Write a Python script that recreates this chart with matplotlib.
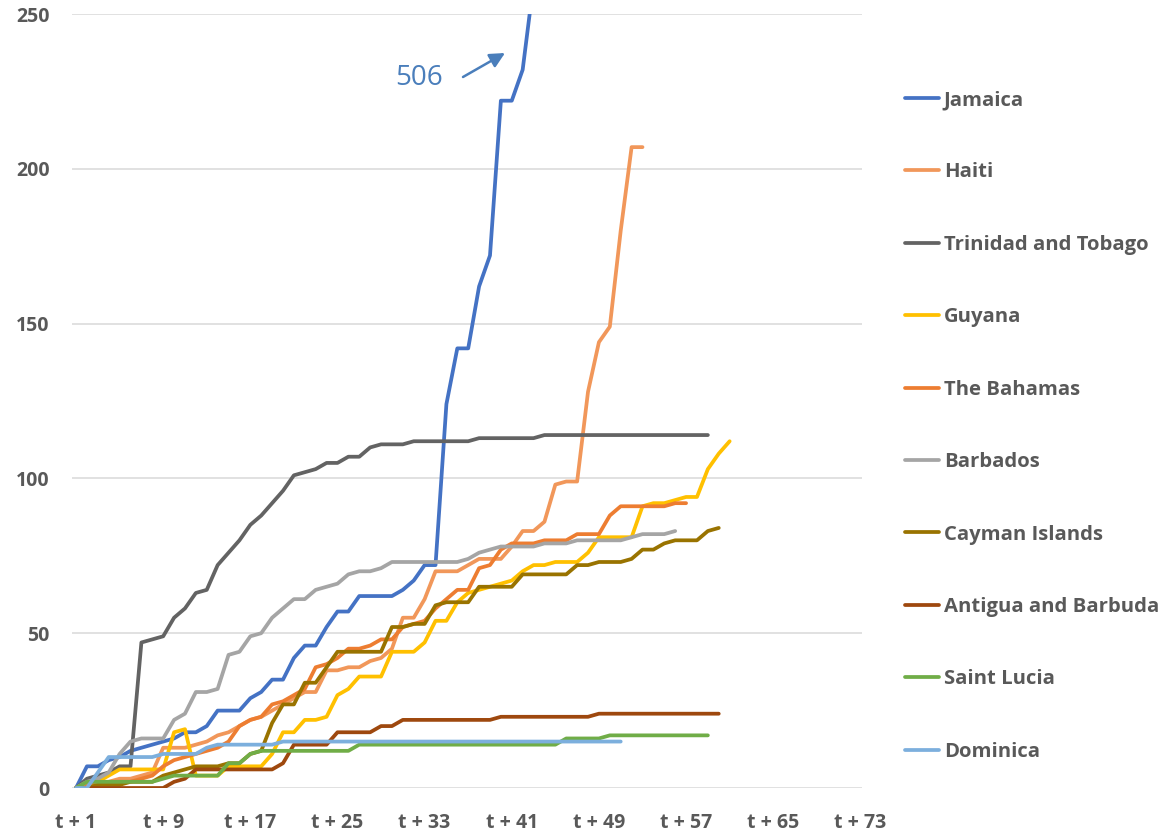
import numpy as np
import matplotlib
matplotlib.use('Agg')
import matplotlib.pyplot as plt

# ---------------- data ----------------
countries = ['Jamaica', 'Haiti', 'Trinidad and Tobago', 'Guyana', 'The Bahamas',
             'Barbados', 'Cayman Islands', 'Antigua and Barbuda', 'Saint Lucia', 'Dominica']

jamaica = [0, 7, 7, 9, 10, 12, 13, 14, 15, 16, 18, 18, 20, 25, 25, 25, 29, 31, 35, 35,
           42, 46, 46, 52, 57, 57, 62, 62, 62, 62, 64, 67, 72, 72, 124, 142, 142, 162, 172, 222,
           222, 232, 260, 300, 330, 366, 393, 412, 445, 470, 488, 506]
haiti = [0, 1, 2, 2, 3, 3, 4, 5, 13, 13, 13, 14, 15, 17, 18, 20, 22, 23, 25, 27,
         29, 31, 31, 38, 38, 39, 39, 41, 42, 45, 55, 55, 61, 70, 70, 70, 72, 74, 74, 74,
         78, 83, 83, 86, 98, 99, 99, 128, 144, 149, 180, 207, 207]
trinidad = [0, 3, 4, 5, 7, 7, 47, 48, 49, 55, 58, 63, 64, 72, 76, 80, 85, 88, 92, 96,
            101, 102, 103, 105, 105, 107, 107, 110, 111, 111, 111, 112, 112, 112, 112, 112, 112, 113, 113, 113,
            113, 113, 113, 114, 114, 114, 114, 114, 114, 114, 114, 114, 114, 114, 114, 114, 114, 114, 114]
guyana = [0, 1, 2, 4, 6, 6, 6, 6, 6, 18, 19, 4, 4, 4, 7, 7, 7, 7, 11, 18,
          18, 22, 22, 23, 30, 32, 36, 36, 36, 44, 44, 44, 47, 54, 54, 60, 63, 64, 65, 66,
          67, 70, 72, 72, 73, 73, 73, 76, 81, 81, 81, 81, 91, 92, 92, 93, 94, 94, 103, 108,
          112]
bahamas = [0, 1, 1, 2, 2, 2, 3, 4, 7, 9, 10, 11, 12, 13, 15, 20, 22, 23, 27, 28,
           30, 32, 39, 40, 42, 45, 45, 46, 48, 48, 52, 53, 54, 58, 61, 64, 64, 71, 72, 77,
           79, 79, 79, 80, 80, 80, 82, 82, 82, 88, 91, 91, 91, 91, 91, 92, 92]
barbados = [0, 2, 3, 5, 11, 15, 16, 16, 16, 22, 24, 31, 31, 32, 43, 44, 49, 50, 55, 58,
            61, 61, 64, 65, 66, 69, 70, 70, 71, 73, 73, 73, 73, 73, 73, 73, 74, 76, 77, 78,
            78, 78, 78, 79, 79, 79, 80, 80, 80, 80, 80, 81, 82, 82, 82, 83]
cayman = [0, 0, 1, 1, 1, 2, 2, 2, 4, 5, 6, 7, 7, 7, 8, 8, 11, 12, 21, 27,
          27, 34, 34, 39, 44, 44, 44, 44, 44, 52, 52, 53, 53, 59, 60, 60, 60, 65, 65, 65,
          65, 69, 69, 69, 69, 69, 72, 72, 73, 73, 73, 74, 77, 77, 79, 80, 80, 80, 83, 84]
antigua = [0, 0, 0, 0, 0, 0, 0, 0, 0, 2, 3, 6, 6, 6, 6, 6, 6, 6, 6, 8,
           14, 14, 14, 14, 18, 18, 18, 18, 20, 20, 22, 22, 22, 22, 22, 22, 22, 22, 22, 23,
           23, 23, 23, 23, 23, 23, 23, 23, 24, 24, 24, 24, 24, 24, 24, 24, 24, 24, 24, 24]
saint_lucia = [0, 2, 2, 2, 2, 2, 2, 2, 3, 4, 4, 4, 4, 4, 8, 8, 11, 12, 12, 12,
               12, 12, 12, 12, 12, 12, 14, 14, 14, 14, 14, 14, 14, 14, 14, 14, 14, 14, 14, 14,
               14, 14, 14, 14, 14, 16, 16, 16, 16, 17, 17, 17, 17, 17, 17, 17, 17, 17, 17]
dominica = [0, 0, 5, 10, 10, 10, 10, 10, 11, 11, 11, 11, 13, 14, 14, 14, 14, 14, 14, 15,
            15, 15, 15, 15, 15, 15, 15, 15, 15, 15, 15, 15, 15, 15, 15, 15, 15, 15, 15, 15,
            15, 15, 15, 15, 15, 15, 15, 15, 15, 15, 15]

series = [jamaica, haiti, trinidad, guyana, bahamas, barbados, cayman, antigua, saint_lucia, dominica]
colors = ['#4472C4', '#F1975A', '#636363', '#FFC000', '#ED7D31',
          '#A5A5A5', '#997300', '#9E480E', '#70AD47', '#7CAFDD']

tick_positions = list(range(1, 74, 8))
tick_labels = [f't + {p}' for p in tick_positions]
y_ticks = [0, 50, 100, 150, 200, 250]
peak_label = '506'

# ---------------- figure ----------------
W, H = 1161, 833
fig = plt.figure(figsize=(W / 100, H / 100), dpi=100)
ax = fig.add_axes([72 / W, (H - 788) / H, (862 - 72) / W, (788 - 14) / H])

for name, vals, c in zip(countries, series, colors):
    x = np.arange(1, len(vals) + 1)
    ax.plot(x, vals, color=c, lw=2.7, label=name, solid_joinstyle='round',
            solid_capstyle='round', clip_on=True)

ax.set_xlim(0.63, 73.15)
ax.set_ylim(0, 250)
ax.set_xticks(tick_positions)
ax.set_xticklabels(tick_labels)
ax.set_yticks(y_ticks)
ax.grid(axis='y', color='#D9D9D9', lw=1.1)
ax.set_axisbelow(True)
for s in ax.spines.values():
    s.set_visible(False)
ax.tick_params(axis='both', length=0, labelcolor='#595959')
ax.tick_params(axis='x', pad=18)
ax.tick_params(axis='y', pad=16)
for lab in ax.get_xticklabels() + ax.get_yticklabels():
    lab.set_fontfamily('Open Sans')
    lab.set_fontweight('bold')
    lab.set_fontsize(14)

# annotation
ax.annotate('', xy=(505, H - 53), xycoords='figure pixels',
            xytext=(463, H - 77), textcoords='figure pixels',
            arrowprops=dict(arrowstyle='-|>,head_length=0.9,head_width=0.45',
                            color='#4A7EBB', lw=1.8, shrinkA=0, shrinkB=0))
fig.text(419 / W, (H - 78) / H, peak_label, color='#4A7EBB', fontsize=20,
         family='Open Sans', ha='center', va='center')

leg = fig.legend(loc='upper left', bbox_to_anchor=(905 / W, (H - 90) / H),
                 frameon=False, handlelength=1.7, handletextpad=0.22,
                 labelspacing=2.585, borderpad=0, borderaxespad=0,
                 prop={'family': 'Open Sans', 'weight': 'bold', 'size': 14.6})
for t in leg.get_texts():
    t.set_color('#595959')
for l in leg.get_lines():
    l.set_linewidth(2.7)

fig.savefig('out.png', dpi=100)
